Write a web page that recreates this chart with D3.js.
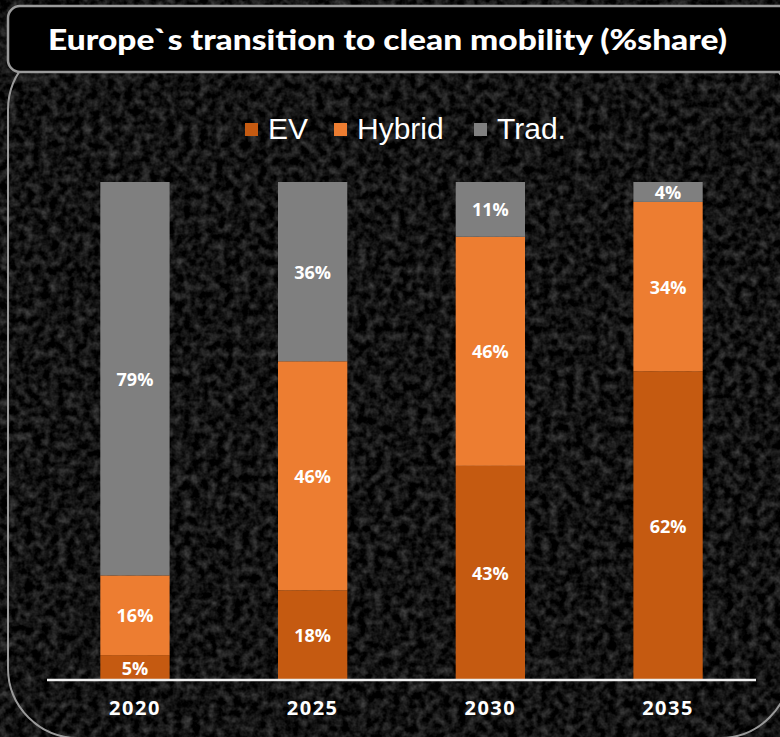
<!DOCTYPE html>
<html><head><meta charset="utf-8">
<script src="https://cdn.jsdelivr.net/npm/d3@7"></script>
<style>html,body{margin:0;padding:0;background:#111;}svg{display:block;}</style>
</head><body>
<script>
const years = ["2020","2025","2030","2035"];
const seriesNames = ["EV","Hybrid","Trad."];
const ev = [5,18,43,62];
const hybrid = [16,46,46,34];
const trad = [79,36,11,4];
const colors = ["#c55a11","#ed7d31","#7f7f7f"];
const title = "Europe`s transition to clean mobility (%share)";

const W = 780, H = 737;
const svg = d3.select("body").append("svg").attr("width",W).attr("height",H);
const defs = svg.append("defs");
const f = defs.append("filter").attr("id","tex").attr("x",0).attr("y",0).attr("width","100%").attr("height","100%")
 .attr("color-interpolation-filters","sRGB");
f.append("feTurbulence").attr("type","fractalNoise").attr("baseFrequency","0.12").attr("numOctaves",3).attr("seed",4).attr("result","n");
f.append("feColorMatrix").attr("in","n").attr("type","matrix")
 .attr("values","0 0 0 0.45 -0.15  0 0 0 0.45 -0.15  0 0 0 0.45 -0.15  0 0 0 0 1");

svg.append("rect").attr("width",W).attr("height",H).attr("fill","#111");
svg.append("rect").attr("width",W).attr("height",H).attr("filter","url(#tex)");

// panel border
svg.append("rect").attr("x",8).attr("y",40).attr("width",782).attr("height",698).attr("rx",70)
 .attr("fill","none").attr("stroke","#9a9a9a").attr("stroke-width",2);
// title box
svg.append("rect").attr("x",8).attr("y",6).attr("width",800).attr("height",66).attr("rx",12)
 .attr("fill","#000").attr("stroke","#9a9a9a").attr("stroke-width",2.5);
svg.append("text").attr("x",48).attr("y",50)
 .attr("textLength",679).attr("lengthAdjust","spacingAndGlyphs")
 .attr("font-family","Lato").attr("font-weight",900).attr("font-size",28).attr("fill","#fff").text(title);

const data = years.map((y,i)=>({year:y, EV:ev[i], Hybrid:hybrid[i], "Trad.":trad[i]}));
const stack = d3.stack().keys(seriesNames)(data);

const x = d3.scaleBand().domain(years).range([47,756]).paddingInner(0.61).paddingOuter(0.3);
const y = d3.scaleLinear().domain([0,100]).range([680,182]);

const g = svg.append("g");
stack.forEach((s,si)=>{
  const grp = g.append("g").attr("fill",colors[si]);
  grp.selectAll("rect").data(s).join("rect")
   .attr("x",d=>x(d.data.year)).attr("width",x.bandwidth())
   .attr("y",d=>y(d[1])).attr("height",d=>y(d[0])-y(d[1]));
  g.append("g").selectAll("text").data(s).join("text")
   .attr("x",d=>x(d.data.year)+x.bandwidth()/2)
   .attr("y",d=>(y(d[0])+y(d[1]))/2 + 7)
   .attr("text-anchor","middle").attr("font-family","Open Sans").attr("font-weight",700)
   .attr("font-size",18).attr("fill","#fff")
   .text(d=>(d[1]-d[0])+"%");
});

// axis
const ax = svg.append("g").attr("transform","translate(0,680)").call(d3.axisBottom(x).tickSize(0).tickPadding(20));
ax.select(".domain").attr("stroke","#eee").attr("stroke-width",2.5).attr("d","M47,0H756");
ax.selectAll("text").attr("font-family","Open Sans").attr("font-weight",700).attr("font-size",20)
 .attr("fill","#fff").attr("letter-spacing",1.5).attr("dy","0.75em");

// legend
const legX = [245,334,474];
const leg = svg.append("g");
seriesNames.forEach((n,i)=>{
  leg.append("rect").attr("x",legX[i]).attr("y",123).attr("width",13).attr("height",13).attr("fill",colors[i]);
  leg.append("text").attr("x",legX[i]+23).attr("y",139).attr("font-family","Liberation Sans")
   .attr("font-size",30).attr("fill","#fff").text(n);
});
</script>
</body></html>
